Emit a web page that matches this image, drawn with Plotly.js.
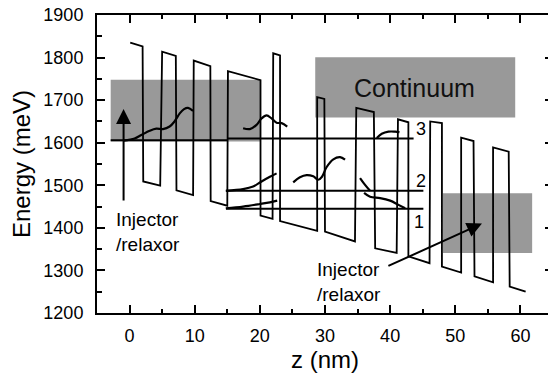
<!DOCTYPE html>
<html><head><meta charset="utf-8">
<script src="https://cdn.plot.ly/plotly-3.0.1.min.js"></script>
<style>html,body{margin:0;padding:0;overflow:hidden;background:#fff}#chart{width:553px;height:373px}</style>
</head><body><div id="chart"></div>
<script>
// Conduction band profile (z in nm, energy in meV)
const bandZ = [0.1, 2.0, 2.1, 4.7, 5.0, 7.1, 7.2, 9.75, 9.85, 12.4, 12.45, 15.0, 15.1, 20.1, 20.1, 21.95, 22.05, 23.1, 23.1, 28.8, 28.8, 29.9, 30.0, 34.6, 34.8, 37.5, 37.7, 41.0, 41.2, 42.8, 42.8, 46.05, 46.15, 47.95, 47.95, 50.9, 50.9, 52.8, 52.95, 55.8, 55.8, 58.2, 58.35, 60.8];
const bandE = [1835, 1826, 1509, 1499, 1814, 1804, 1488, 1477, 1793, 1780, 1463, 1452, 1768, 1747, 1429, 1421, 1810, 1805, 1416, 1393, 1707, 1703, 1391, 1368, 1682, 1672, 1352, 1341, 1655, 1648, 1333, 1317, 1650, 1646, 1309, 1295, 1612, 1604, 1286, 1272, 1589, 1579, 1262, 1250];

// Energy levels
const levelLabels = ["", "3", "2", "1"];
const levelE = [1606, 1610, 1487, 1445];
const levelZ0 = [-2.9, 15.1, 14.8, 14.8];
const levelZ1 = [15.1, 43.6, 45.1, 45.1];
const labelZ = [null, 44.8, 44.8, 44.4];
const labelE = [null, 1632, 1509, 1414];

// Wavefunctions
const wf1Z = [-0.88, 0.77, 1.8, 3.08, 4.1, 5.12, 6.15, 6.9, 7.7, 8.36, 8.97, 9.74];
const wf1E = [1605, 1610, 1618, 1628, 1633, 1632, 1638, 1650, 1669, 1679, 1682, 1675];
const wf2Z = [17.43, 18.46, 19.49, 20.26, 21.03, 21.8, 22.57, 23.34, 24.2];
const wf2E = [1634, 1632, 1642, 1657, 1664, 1657, 1647, 1646, 1638];
const wf3Z = [37.95, 38.72, 39.74, 40.77, 41.43];
const wf3E = [1611, 1621, 1626, 1626, 1625];
const wf4Z = [25.12, 26.15, 27.18, 28.2, 28.97, 29.54, 30.26, 31.28, 32.31, 33.08];
const wf4E = [1507, 1519, 1524, 1521, 1513, 1520, 1543, 1561, 1566, 1560];
const wf5Z = [14.77, 17.43, 18.97, 20.26, 21.54, 22.57];
const wf5E = [1487, 1491, 1497, 1509, 1520, 1528];
const wf6Z = [14.77, 17.43, 20.0, 21.54, 22.66];
const wf6E = [1446, 1450, 1456, 1460, 1464];
const wf7Z = [35.38, 36.15, 36.92];
const wf7E = [1517, 1501, 1487];
const wf8Z = [36.0, 36.92, 38.46, 40.0, 41.28, 42.31];
const wf8E = [1482, 1473, 1470, 1464, 1454, 1446];

// Shaded regions
const rectZ0 = [-2.9, 28.5, 48.1];
const rectZ1 = [20.1, 59.2, 61.8];
const rectE0 = [1603, 1659, 1341];
const rectE1 = [1748, 1801, 1481];

const FONT = "Liberation Sans, Arial, Helvetica, sans-serif";
const traces = [];
const line = (x, y, w) => ({x, y, type: 'scatter', mode: 'lines', line: {color: 'black', width: w}, hoverinfo: 'skip', showlegend: false});
traces.push(line(bandZ, bandE, 1.8));
for (let i = 0; i < levelE.length; i++) {
  traces.push(line([levelZ0[i], levelZ1[i]], [levelE[i], levelE[i]], 2));
}
[[wf1Z, wf1E], [wf2Z, wf2E], [wf3Z, wf3E], [wf4Z, wf4E], [wf5Z, wf5E], [wf6Z, wf6E], [wf7Z, wf7E], [wf8Z, wf8E]].forEach(p => {
  const t = line(p[0], p[1], 2.2);
  t.line.shape = 'spline';
  traces.push(t);
});

const shapes = rectZ0.map((z0, i) => ({type: 'rect', xref: 'x', yref: 'y', x0: z0, x1: rectZ1[i], y0: rectE0[i], y1: rectE1[i], fillcolor: '#999999', line: {width: 0}, layer: 'below'}));

const annotations = [];
for (let i = 1; i < levelLabels.length; i++) {
  annotations.push({x: labelZ[i], y: labelE[i], xref: 'x', yref: 'y', text: levelLabels[i], showarrow: false, font: {family: FONT, size: 18, color: 'black'}});
}
annotations.push({x: 43.7, y: 1728, xref: 'x', yref: 'y', text: 'Continuum', showarrow: false, font: {family: FONT, size: 25, color: '#111'}});
annotations.push({x: -2.4, y: 1391, xref: 'x', yref: 'y', xanchor: 'left', align: 'left', text: 'Injector<br>/relaxor', showarrow: false, font: {family: FONT, size: 19, color: 'black'}});
annotations.push({x: 28.4, y: 1272, xref: 'x', yref: 'y', xanchor: 'left', align: 'left', text: 'Injector<br>/relaxor', showarrow: false, font: {family: FONT, size: 19, color: 'black'}});
annotations.push({x: -0.92, y: 1679, ax: -0.92, ay: 1461, xref: 'x', yref: 'y', axref: 'x', ayref: 'y', text: '', showarrow: true, arrowhead: 2, arrowsize: 1.5, arrowwidth: 2, arrowcolor: 'black'});
annotations.push({x: 54.1, y: 1410, ax: 39.5, ay: 1309, xref: 'x', yref: 'y', axref: 'x', ayref: 'y', text: '', showarrow: true, arrowhead: 2, arrowsize: 1.5, arrowwidth: 2, arrowcolor: 'black'});

const axisCommon = {
  showgrid: false, zeroline: false, showline: true, linecolor: 'black', linewidth: 2,
  mirror: 'allticks', ticks: 'inside', ticklen: 8, tickwidth: 2, tickcolor: 'black',
  tickfont: {family: FONT, size: 18, color: 'black'}
};
const layout = {
  width: 553, height: 373,
  margin: {l: 97, r: 0, t: 15, b: 60},
  paper_bgcolor: 'white', plot_bgcolor: 'white',
  showlegend: false,
  xaxis: Object.assign({}, axisCommon, {
    range: [-5, 65], tick0: 0, dtick: 10, ticklabelstandoff: 5,
    minor: {dtick: 5, ticks: 'inside', ticklen: 4, tickwidth: 2, tickcolor: 'black'},
    title: {text: 'z (nm)', font: {family: FONT, size: 24, color: 'black'}, standoff: 11}
  }),
  yaxis: Object.assign({}, axisCommon, {
    range: [1200, 1900], tick0: 1200, dtick: 100, ticklabelstandoff: 8,
    minor: {dtick: 50, ticks: 'inside', ticklen: 5, tickwidth: 2, tickcolor: 'black'},
    title: {text: 'Energy (meV)', font: {family: FONT, size: 24, color: 'black'}, standoff: 6}
  }),
  shapes, annotations
};
Plotly.newPlot('chart', traces, layout, {displayModeBar: false, staticPlot: true});
</script>
</body></html>
